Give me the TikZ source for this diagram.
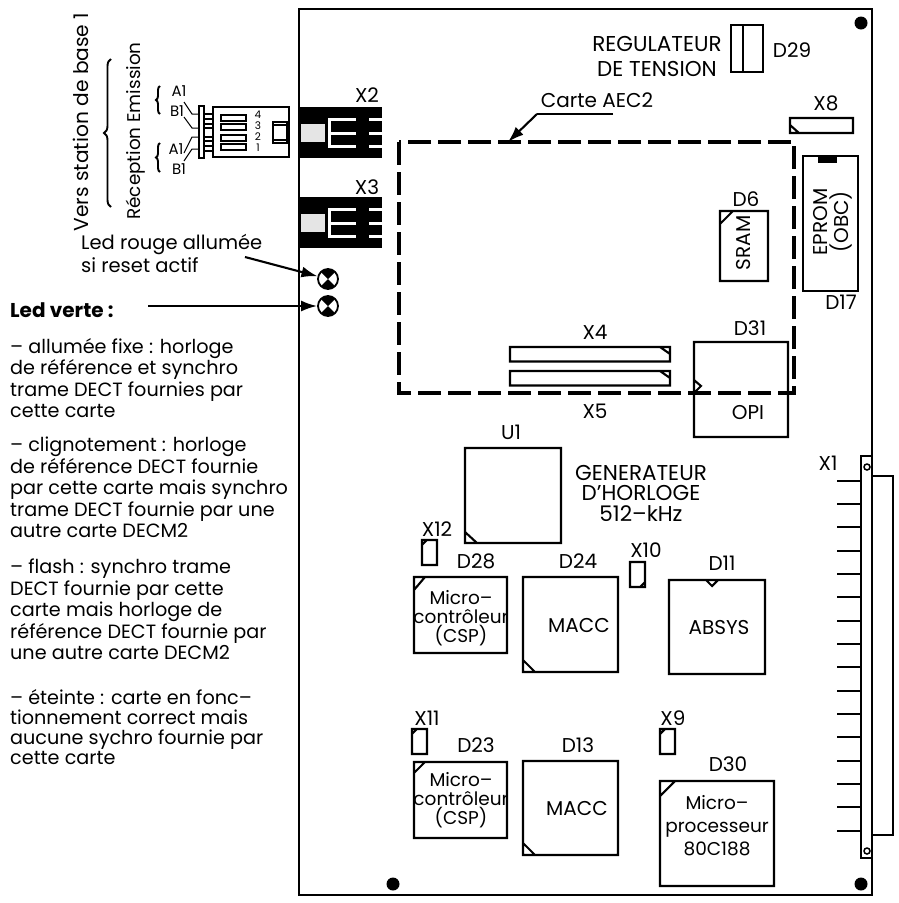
\documentclass[tikz,border=0pt]{standalone}
\usepackage{fontspec}
\setmainfont{Poppins}
\usetikzlibrary{arrows.meta,decorations.pathreplacing}
\newcommand{\lblfont}{\fontsize{20}{19}\selectfont}
\newcommand{\capfont}{\fontsize{21.5}{19}\selectfont}
\newcommand{\micfont}{\fontsize{18.5}{19}\selectfont}
\newcommand{\txtfont}{\fontsize{19.2}{21.5}\selectfont}
\newcommand{\petfont}{\fontsize{15}{15}\selectfont}
\tikzset{
  trait/.style={line width=2.1pt},
  lbl/.style={font=\lblfont,inner sep=0pt,align=center},
  para/.style={font=\txtfont,inner sep=0pt,align=left,anchor=north west},
  tip/.style={line width=2.1pt,-{Latex[length=16pt,width=11pt]}},
  trou/.style={circle,fill=black,inner sep=0pt,minimum size=13pt},
  led/.style={circle,draw,line width=1.8pt,inner sep=0pt,minimum size=20pt,
    path picture={
      \fill (path picture bounding box.center) -- (path picture bounding box.north west) -- (path picture bounding box.north east) -- cycle;
      \fill (path picture bounding box.center) -- (path picture bounding box.south west) -- (path picture bounding box.south east) -- cycle;}},
  accol/.style={line width=1.9pt,decorate,decoration={brace,amplitude=#1}}
}
\begin{document}
\begin{tikzpicture}[x=1pt,y=-1pt]
\useasboundingbox (0,0) rectangle (898,903);
% carte
\draw[line width=2.5pt] (299,9) rectangle (872,895);
\node[trou] (t1) at (861,23) {};
\node[trou] (t2) at (393,884) {};
\node[trou] (t3) at (861,884) {};
% regulateur
\draw[trait] (731,25) rectangle (763,72) (743,25)--(743,72);
\node[lbl,font=\capfont] (reg) at (657,56) {REGULATEUR\\[6pt]DE TENSION};
\node[lbl] (d29) at (792,50) {D29};
% carte AEC2
\draw[line width=3.3pt,dash pattern=on 23pt off 7pt] (399,142) rectangle (794,393);
\node[lbl] (aec) at (597,100) {Carte AEC2};
\coordinate (aecb) at (613,114);
\coordinate (aecc) at (537,114);
\coordinate (aecp) at (508,142);
\draw[line width=1.8pt] (aecb)--(aecc);
\draw[tip] (aecc)--(aecp);
% X8, D17, D6
\node[lbl] (x8) at (826,103) {X8};
\draw[trait] (790,118) rectangle (853,133) (790,125)--(799,133);
\draw[trait] (803,156) rectangle (858,291);
\fill (818,156) rectangle (837,163);
\node[lbl,rotate=90] (eprom) at (833,222) {EPROM\\[2pt](OBC)};
\node[lbl] (d17) at (841,302) {D17};
\node[lbl] (d6) at (746,199) {D6};
\draw[trait] (720,211) rectangle (768,281) (720,224)--(733,211);
\node[lbl,rotate=90] (sram) at (744,243) {SRAM};
% X4, X5, D31
\node[lbl] (x4) at (595,332) {X4};
\node[lbl] (x5) at (595,411) {X5};
\foreach \y in {347,371}
\draw[trait] (510,\y) rectangle (670,\y+14.5) (660,\y)--(670,\y+7);
\draw[trait] (694,342) rectangle (788,437) (694,380)--(701,386)--(694,393);
\node[lbl] (d31) at (750,328) {D31};
\node[lbl] (opi) at (748,413) {OPI};
% U1
\node[lbl] (u1) at (511,432) {U1};
\draw[trait] (465,448) rectangle (561,543) (465,532)--(477,543);
\node[lbl,font=\fontsize{21.5}{20.5}\selectfont] (gen) at (641,493) {GENERATEUR\\D'HORLOGE\\512–kHz};
% ligne du haut
\node[lbl] (x12) at (437,529) {X12};
\draw[trait] (422,540) rectangle (437,565) (422,545)--(427,540);
\node[lbl] (d28) at (476,561) {D28};
\draw[trait] (414,577) rectangle (507,653) (414,590)--(425,577);
\node[lbl,font=\micfont] (csp1) at (461,618) {Micro–\\contrôleur\\(CSP)};
\node[lbl] (d24) at (578,561) {D24};
\draw[trait] (523,577) rectangle (618,672) (523,660)--(535,672);
\node[lbl] (macc1) at (579,625) {MACC};
\node[lbl] (x10) at (646,550) {X10};
\draw[trait] (630,562) rectangle (645,587) (645,582)--(640,587);
\node[lbl] (d11) at (722,563) {D11};
\draw[trait] (669,580) rectangle (765,674) (706,580)--(712,586)--(718,580);
\node[lbl] (absys) at (719,627) {ABSYS};
% ligne du bas
\node[lbl] (x11) at (427,718) {X11};
\draw[trait] (412,729) rectangle (427,754) (412,734)--(417,729);
\node[lbl] (d23) at (476,745) {D23};
\draw[trait] (414,762) rectangle (507,838) (414,773)--(425,762);
\node[lbl,font=\micfont] (csp2) at (461,800) {Micro–\\contrôleur\\(CSP)};
\node[lbl] (d13) at (578,745) {D13};
\draw[trait] (523,761) rectangle (618,855) (523,843)--(535,855);
\node[lbl] (macc2) at (577,808) {MACC};
\node[lbl] (x9) at (673,718) {X9};
\draw[trait] (660,729) rectangle (675,754) (660,734)--(665,729);
\node[lbl] (d30) at (728,764) {D30};
\draw[trait] (660,781) rectangle (774,886) (660,796)--(675,781);
\node[lbl,font=\fontsize{18.5}{23}\selectfont] (proc) at (717,826) {Micro–\\processeur\\80C188};
% X1
\node[lbl] (x1) at (828,463) {X1};
\draw[trait] (861,456) rectangle (872,858);
\draw[trait] (872,476) rectangle (893,835);
\foreach \n in {0,...,15}
\draw[trait] (837,480.7+23.33*\n) -- (861,480.7+23.33*\n);
\draw[line width=1.5pt] (867,467) circle[radius=3pt] (867,851) circle[radius=3pt];
% X2, X3
\node[lbl] (x2) at (367,95) {X2};
\node[lbl] (x3) at (367,187) {X3};
\foreach \y in {107,197} {
\fill (300,\y) rectangle (382,\y+51);
\fill[gray!20] (301,\y+17) rectangle (325,\y+35);
\fill[white] (328,\y+11) rectangle (331,\y+41);
\foreach \d in {11,25,38} {
\fill[white] (328,\y+\d) rectangle (356,\y+\d+3);
\fill[white] (369,\y+\d) rectangle (382,\y+\d+3);
}
}
% fiche
\draw[trait] (213,107) rectangle (289,157);
\draw[trait] (199,106) rectangle (204,158);
\draw[line width=1.5pt] (204,114) rectangle (213,119) (204,124) rectangle (213,128)
  (204,137) rectangle (213,141) (204,146) rectangle (213,151);
\foreach \y in {115,124,135,144}
\draw[trait] (221,\y) rectangle (246,\y+6);
\draw[trait] (273,122) rectangle (287,143);
\draw[line width=1.2pt] (273,125)--(287,125) (273,140)--(287,140);
\foreach \c/\y in {4/115,3/126,2/137,1/148}
\node[lbl,font=\fontsize{10.5}{11}\selectfont] (n\c) at (258,\y) {\c};
\node[lbl,font=\petfont] (a1h) at (179,91) {A1};
\node[lbl,font=\petfont] (b1h) at (177,111) {B1};
\node[lbl,font=\petfont] (a1b) at (176,149) {A1};
\node[lbl,font=\petfont] (b1b) at (179,169) {B1};
\draw[line width=1pt] (184,102)--(192,114)--(199,114) (184,117)--(192,128)--(199,128)
  (184,153)--(192,137)--(199,137) (184,161)--(192,149)--(199,149);
% accolades
\draw[accol=4pt] (160,114)--(160,86);
\draw[accol=4pt] (160,172)--(160,143);
\draw[accol=7pt] (111,207)--(111,59);
\node[lbl,rotate=90,font=\fontsize{20.2}{15}\selectfont] (vers) at (81,122) {Vers station de base 1};
\node[lbl,rotate=90,font=\fontsize{18.4}{15}\selectfont] (rece) at (136,131) {Réception Emission};
% leds
\node[lbl,align=left,anchor=west,font=\fontsize{19.5}{23}\selectfont] (rouge) at (81,253) {Led rouge allumée\\si reset actif};
\node[led] (ledr) at (328,279) {};
\node[led] (ledv) at (328,306) {};
\coordinate (rp) at (245,257);
\draw[tip] (rp)--(ledr);
\node[anchor=west,inner sep=0pt,font=\lblfont\bfseries] (verte) at (10,310) {Led verte :};
\coordinate (vp) at (148,306);
\draw[tip] (vp)--(ledv);
% textes
\node[para] (p1) at (10,338) {– allumée fixe : horloge\\de référence et synchro\\trame DECT fournies par\\cette carte};
\node[para] (p2) at (10,437) {– clignotement : horloge\\de référence DECT fournie\\par cette carte mais synchro\\trame DECT fournie par une\\autre carte DECM2};
\node[para] (p3) at (10,559) {– flash : synchro trame\\DECT fournie par cette\\carte mais horloge de\\référence DECT fournie par\\une autre carte DECM2};
\node[para,font=\fontsize{19.2}{20}\selectfont] (p4) at (10,689) {– éteinte : carte en fonc–\\tionnement correct mais\\aucune sychro fournie par\\cette carte};
\end{tikzpicture}
\end{document}
